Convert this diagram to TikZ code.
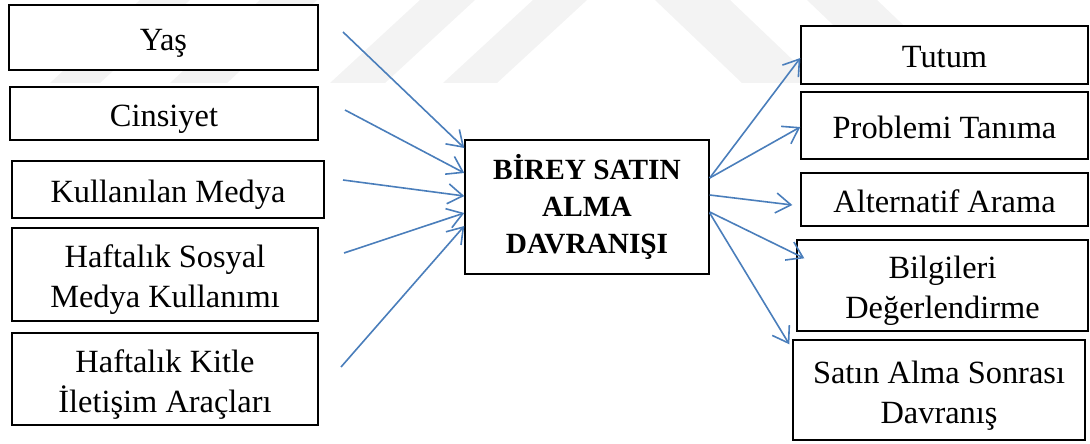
\documentclass[tikz,border=0pt]{standalone}
\usepackage{fontspec}
\setmainfont{Liberation Serif}
\usetikzlibrary{arrows.meta}
\definecolor{arrblue}{HTML}{4A7EBB}
\definecolor{wm}{HTML}{F3F3F3}
\newcommand{\boxtxt}[1]{\raisebox{-5pt}[\height][\depth]{\begin{tabular}{@{}c@{}}#1\end{tabular}}}
\begin{document}
\begin{tikzpicture}[x=1pt,y=-1pt,
  box/.style={draw=black, line width=1.4pt, fill=white, inner sep=0pt,
              font=\fontsize{32.4}{40}\selectfont},
  centerbox/.style={draw=black, line width=1.4pt, fill=white, inner sep=0pt, align=center,
              font=\fontsize{29.3}{37}\selectfont\bfseries},
  conn/.style={draw=arrblue, line width=1.6pt, -{Straight Barb[length=15pt,width=20pt]}},
  band/.style={fill=wm, draw=none}]
\useasboundingbox (0,0) rectangle (1090,444);
% faint watermark bands
\fill[band] (50,83) -- (100,83) -- (190,0) -- (140,0) -- cycle;
\fill[band] (170,83) -- (227,83) -- (317,0) -- (260,0) -- cycle;
\fill[band] (330,83) -- (385,83) -- (475,0) -- (420,0) -- cycle;
\fill[band] (443,83) -- (497,83) -- (587,0) -- (533,0) -- cycle;
\fill[band] (655,0) -- (730,0) -- (817,83) -- (742,83) -- cycle;
\fill[band] (807,0) -- (877,0) -- (964,83) -- (894,83) -- cycle;
% left boxes
\node[box, minimum width=309pt, minimum height=65pt] (yas) at (163.5,37.5) {\boxtxt{Yaş}};
\node[box, minimum width=308pt, minimum height=53pt] (cins) at (164,113.5) {\boxtxt{Cinsiyet}};
\node[box, minimum width=312pt, minimum height=57pt] (kull) at (168,189.5) {\boxtxt{Kullanılan Medya}};
\node[box, minimum width=306pt, minimum height=93pt] (hsos) at (165,274.5) {\boxtxt{Haftalık Sosyal\\Medya Kullanımı}};
\node[box, minimum width=306pt, minimum height=92pt] (hkit) at (165,379) {\boxtxt{Haftalık Kitle\\İletişim Araçları}};
% center
\node[centerbox, minimum width=244pt, minimum height=134pt] (ctr) at (587,207) {BİREY SATIN\\ALMA\\DAVRANIŞI};
% right boxes
\node[box, minimum width=287pt, minimum height=58pt] (tutum) at (944.5,55) {\boxtxt{Tutum}};
\node[box, minimum width=287pt, minimum height=67pt] (prob) at (944.5,125.5) {\boxtxt{Problemi Tanıma}};
\node[box, minimum width=287pt, minimum height=53pt] (alt) at (944.5,199.5) {\boxtxt{Alternatif Arama}};
\node[box, minimum width=291pt, minimum height=91pt] (bilg) at (942.5,285.5) {\boxtxt{Bilgileri\\Değerlendirme}};
\node[box, minimum width=292pt, minimum height=100pt] (satin) at (939,390) {\boxtxt{Satın Alma Sonrası\\Davranış}};
% free start points of left arrows
\coordinate (s1) at (343,32);
\coordinate (s2) at (345,110);
\coordinate (s3) at (343,180);
\coordinate (s4) at (344,253);
\coordinate (s5) at (341,367);
% left connectors
\draw[conn] (s1) -- ([yshift=59pt]ctr.west);
\draw[conn] (s2) -- ([yshift=34pt]ctr.west);
\draw[conn] (s3) -- ([yshift=11pt]ctr.west);
\draw[conn] (s4) -- ([yshift=-6pt]ctr.west);
\draw[conn] (s5) -- ([yshift=-19pt]ctr.west);
% right connectors
\draw[conn] ([yshift=29pt]ctr.east) -- ([yshift=-3pt]tutum.west);
\draw[conn] ([yshift=29pt]ctr.east) -- ([yshift=-1.5pt]prob.west);
\draw[conn] ([yshift=12pt]ctr.east) -- ([xshift=-8pt,yshift=-5.5pt]alt.west);
\draw[conn] ([yshift=-5pt]ctr.east) -- ([xshift=8pt,yshift=-19pt]bilg.north west);
\draw[conn] ([yshift=-6pt]ctr.east) -- ([xshift=-3pt,yshift=-5pt]satin.north west);
\end{tikzpicture}
\end{document}
